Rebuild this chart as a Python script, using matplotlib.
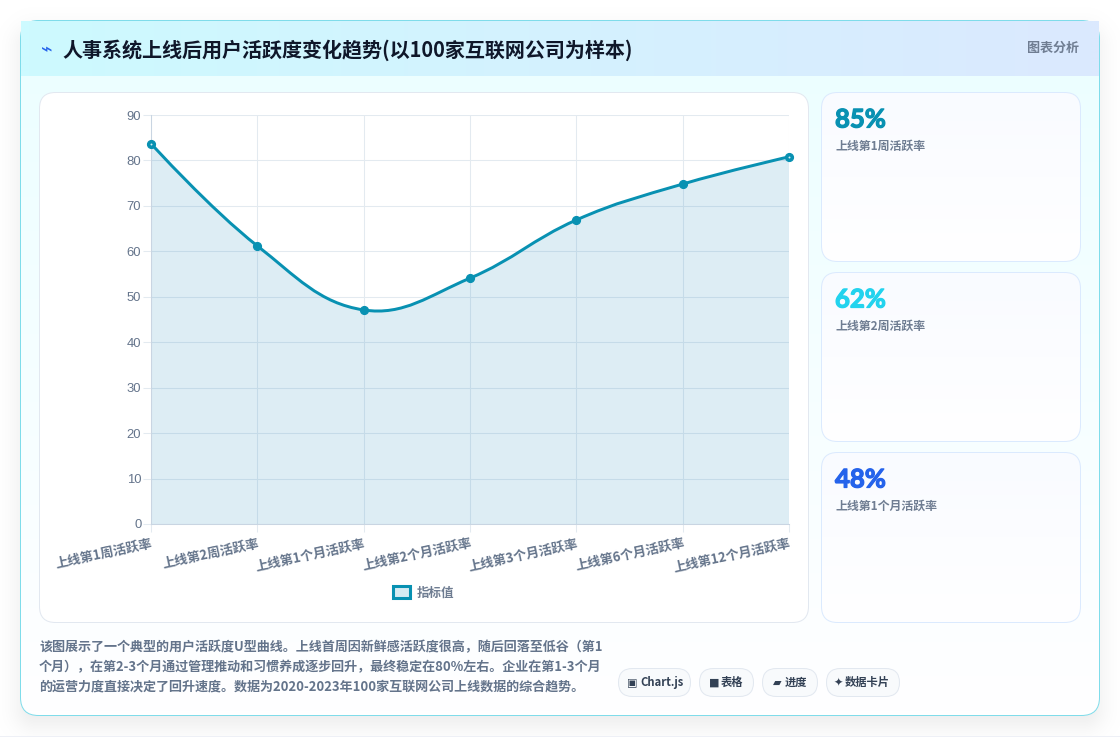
import numpy as np
import matplotlib
matplotlib.use('Agg')
import matplotlib.pyplot as plt
import matplotlib.patheffects as pe
from matplotlib.patches import FancyBboxPatch, Rectangle, PathPatch, Patch
from matplotlib.path import Path

plt.rcParams['font.family'] = ['Noto Sans CJK SC', 'DejaVu Sans']

title = '人事系统上线后用户活跃度变化趋势(以100家互联网公司为样本)'
categories = ['上线第1周活跃率', '上线第2周活跃率', '上线第1个月活跃率', '上线第2个月活跃率',
              '上线第3个月活跃率', '上线第6个月活跃率', '上线第12个月活跃率']
values = [83.7, 61.2, 47.1, 54.1, 66.9, 74.8, 80.8]
y_ticks = [0, 10, 20, 30, 40, 50, 60, 70, 80, 90]
stat_values = ['85%', '62%', '48%']
stat_labels = ['上线第1周活跃率', '上线第2周活跃率', '上线第1个月活跃率']
stat_colors = ['#0891b2', '#22d3ee', '#2563eb']
desc_lines = ['该图展示了一个典型的用户活跃度U型曲线。上线首周因新鲜感活跃度很高，随后回落至低谷（第1',
              '个月），在第2-3个月通过管理推动和习惯养成逐步回升，最终稳定在80%左右。企业在第1-3个月',
              '的运营力度直接决定了回升速度。数据为2020-2023年100家互联网公司上线数据的综合趋势。']
pill_labels = ['Chart.js', '表格', '进度', '数据卡片']
pill_icons = ['▣', '■', '▰', '✦']

W, H = 1120, 737
LINE = '#0891b2'
GREY = '#64748b'
SOFT = '#6f7d92'
BORDER = 0.72


def rounded(x0, y0, x1, y1, r, **kw):
    return FancyBboxPatch((x0 + r, y0 + r), x1 - x0 - 2 * r, y1 - y0 - 2 * r,
                          boxstyle=f'round,pad={r},rounding_size={r}', **kw)


def gradient(ax, box, c0, c1, angle='v', clip=None, zorder=1):
    # two-colour gradient painted into a pixel box, optionally clipped to a patch
    x0, y0, x1, y1 = box
    c0 = np.array(matplotlib.colors.to_rgb(c0))
    c1 = np.array(matplotlib.colors.to_rgb(c1))
    ny, nx = 64, 64
    yy, xx = np.mgrid[0:1:ny * 1j, 0:1:nx * 1j]
    t = {'v': yy, 'h': xx, 'd': (xx + yy) / 2}[angle]
    img = c0[None, None, :] * (1 - t[..., None]) + c1[None, None, :] * t[..., None]
    im = ax.imshow(img, extent=(x0, x1, y1, y0), aspect='auto', zorder=zorder,
                   interpolation='bilinear')
    if clip is not None:
        im.set_clip_path(clip)
    return im


fig = plt.figure(figsize=(W / 100, H / 100), dpi=100, facecolor='white')

# pixel-space canvas for the cards and text
bg = fig.add_axes([0, 0, 1, 1], zorder=0)
bg.axis('off')

# soft drop shadow under the main card
yy, xx = np.mgrid[0:H, 0:W] + 0.5
r = 16
qx = np.abs(xx - 559.5) - (539.5 - r)
qy = np.abs(yy - 378) - (347 - r)
sdf = np.hypot(np.maximum(qx, 0), np.maximum(qy, 0)) + np.minimum(np.maximum(qx, qy), 0) - r
alpha = 0.085 * 0.5 * (1 - np.tanh(sdf / 16))
shadow = np.zeros((H, W, 4))
shadow[..., 3] = alpha
bg.imshow(shadow, extent=(0, W, H, 0), aspect='auto', zorder=0.5)
bg.add_patch(Rectangle((0, 735.5), W, 2, fc='#eef0f6', ec='none', zorder=0.6))

# main card
card = rounded(20.5, 20.5, 1099.5, 715.5, 18, fc='white', ec='none', zorder=1)
bg.add_patch(card)
gradient(bg, (20, 20, 1100, 716), '#ebfeff', '#ffffff', 'v', clip=card, zorder=1.1)
bg.add_patch(rounded(20.5, 20.5, 1099.5, 715.5, 18, fc='none', ec='#7fdcea', lw=BORDER, zorder=1.2))

# header strip
gradient(bg, (21, 21, 1099, 76), '#cdfaff', '#dbe9fe', 'h', zorder=1.3)
bg.text(47, 50, '⌁', color='#2563eb', fontsize=14, family=['DejaVu Sans'],
        ha='center', va='center', zorder=2)
bg.text(62, 50, title, color='#0f172a', fontsize=14.45, fontweight='bold', va='center', zorder=2)
bg.text(1079, 48, '图表分析', color=SOFT, fontsize=9.4, fontweight='bold', ha='right', va='center', zorder=2)

# chart panel
bg.add_patch(rounded(39.5, 92.5, 808.5, 622.5, 16, fc='white', ec='#e2e8f0', lw=BORDER, zorder=1.4))

# stat cards
for i, (val, lab, col) in enumerate(zip(stat_values, stat_labels, stat_colors)):
    top = 93 + i * 180
    bot = top + 168 + (1 if i == 2 else 0)
    box = rounded(821.5, top - 0.5, 1080.5, bot + 0.5, 16, fc='white', ec='none', zorder=1.4)
    bg.add_patch(box)
    gradient(bg, (821, top - 1, 1081, bot + 1), '#f9fbff', '#ffffff', 'v', clip=box, zorder=1.5)
    bg.add_patch(rounded(821.5, top - 0.5, 1080.5, bot + 0.5, 16, fc='none', ec='#dbeafe', lw=BORDER, zorder=1.6))
    big = bg.text(835, top + 26.5, val, color=col, fontsize=18.5, family=['Lato'], fontweight='bold',
                  va='center', zorder=2)
    # thicken the numerals a little, no heavier cut is available
    big.set_path_effects([pe.withStroke(linewidth=0.9, foreground=col)])
    bg.text(835, top + 53, lab, color=SOFT, fontsize=8.6, fontweight='bold', va='center', zorder=2)

# description under the chart
for i, line in enumerate(desc_lines):
    bg.text(39, 647 + i * 20, line, color=GREY, fontsize=9.4, fontweight='bold', va='center', zorder=2)

# small tag pills
pill_x = [(618, 691), (699, 754), (762, 818), (826, 900)]
pill_icon_x = [632, 714, 777, 838]
pill_text_x = [640, 721, 785, 845]
for (x0, x1), ix, tx, icon, lab in zip(pill_x, pill_icon_x, pill_text_x, pill_icons, pill_labels):
    bg.add_patch(rounded(x0 + 0.5, 668.5, x1 - 0.5, 696.5, 14, fc='#f8fafc', ec='#e2e8f0', lw=BORDER, zorder=1.4))
    bg.text(ix, 683, icon, color='#334155', fontsize=8, family=['DejaVu Sans'],
            ha='center', va='center', zorder=2)
    bg.text(tx, 682.5, lab, color='#334155', fontsize=8.1, fontweight='bold', va='center', zorder=2)

bg.set_xlim(0, W)
bg.set_ylim(H, 0)

# line chart
ax = fig.add_axes([151 / W, 1 - 524 / H, (789 - 151) / W, (524 - 115) / H], zorder=3)
ax.patch.set_visible(False)
ax.set_xlim(0, len(values) - 1)
ax.set_ylim(0, 90)
x = np.arange(len(values))

# bezier control points with tension 0.4, worked out in screen space
pts = ax.transData.transform(np.column_stack([x, values]))
verts, codes = [pts[0]], [Path.MOVETO]
for i in range(len(pts) - 1):
    p0 = pts[max(i - 1, 0)]
    p1, p2 = pts[i], pts[i + 1]
    p3 = pts[min(i + 2, len(pts) - 1)]
    d01, d12, d23 = np.hypot(*(p1 - p0)), np.hypot(*(p2 - p1)), np.hypot(*(p3 - p2))
    c1 = p1 + 0.4 * d12 / (d01 + d12) * (p2 - p0) if i > 0 else p1
    c2 = p2 - 0.4 * d12 / (d12 + d23) * (p3 - p1) if i < len(pts) - 2 else p2
    verts += [c1, c2, p2]
    codes += [Path.CURVE4] * 3
curve = ax.transData.inverted().transform(np.array(verts))

area = np.vstack([curve, [x[-1], 0], [x[0], 0], curve[0]])
area_codes = codes + [Path.LINETO, Path.LINETO, Path.CLOSEPOLY]
ax.add_patch(PathPatch(Path(area, area_codes), fc='#1b87bb', alpha=0.15, ec='none', zorder=2))
ax.add_patch(PathPatch(Path(curve, codes), fc='none', ec=LINE, lw=2.15, zorder=3, clip_on=False))
ax.plot(x, values, ls='none', marker='o', ms=5.6, mfc=LINE, mec=LINE, zorder=4, clip_on=False)
# the two end points show a small pale centre
ax.plot(x[[0, -1]], np.array(values)[[0, -1]], ls='none', marker='o', ms=1.4, mfc='#d8eef4', mec='none',
        zorder=5, clip_on=False)

ax.set_yticks(y_ticks)
ax.set_xticks(x)
ax.set_xticklabels(categories, rotation=12, ha='right', va='top', rotation_mode='anchor',
                   color=GREY, fontsize=9.4, fontweight='bold')
for t in ax.get_yticklabels():
    t.set_family(['Liberation Sans'])
    t.set_color(GREY)
    t.set_fontsize(9.4)
ax.tick_params(axis='both', length=6, width=0.75, color='#e3eaf0')
ax.tick_params(axis='x', pad=3)
ax.tick_params(axis='y', pad=1)
ax.grid(True, color='#e3eaf0', lw=0.75, zorder=0)
ax.set_axisbelow(True)
for name, spine in ax.spines.items():
    spine.set_visible(name in ('left', 'bottom'))
    spine.set_color('#c9d5e2')
    spine.set_linewidth(0.75)

handle = Patch(fc='#d6ebf2', ec=LINE, lw=2.2, label='指标值')
leg = fig.legend(handles=[handle], loc='center', bbox_to_anchor=(423.5 / W, 1 - 593 / H),
                 frameon=False, handlelength=1.35, handleheight=1.1,
                 handletextpad=0.55, labelcolor=SOFT,
                 prop={'size': 9, 'weight': 'bold'})
leg.set_zorder(4)

fig.savefig('out.png', dpi=100, facecolor='white')
